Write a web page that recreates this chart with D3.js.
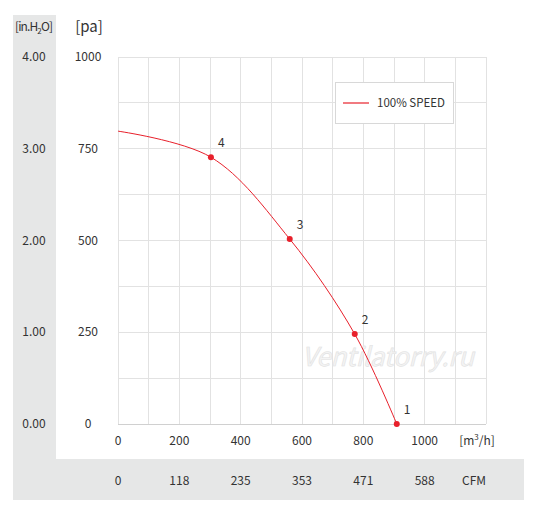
<!DOCTYPE html>
<html><head><meta charset="utf-8">
<script src="https://cdn.jsdelivr.net/npm/d3@7"></script>
<style>body{margin:0;background:#fff}text{font-family:"Noto Sans CJK KR","Noto Sans",sans-serif;fill:#333}</style>
</head><body>
<svg id="c" width="539" height="515"></svg>
<script>
const flowTicks = [0,200,400,600,800,1000];
const cfmLabels = ["0","118","235","353","471","588"];
const paTicks = [0,250,500,750,1000];
const inchLabels = ["0.00","1.00","2.00","3.00","4.00"];
const curveFlow = [0,303,560,772,909];
const curvePa = [798,727,504,245,0];
const pointNames = ["","4","3","2","1"];
const seriesName = "100% SPEED";
const red = "#e8202b";

const svg = d3.select("#c");
const x = d3.scaleLinear().domain([0,1200]).range([118,486]);
const y = d3.scaleLinear().domain([0,1000]).range([424,57]);

svg.append("rect").attr("x",13).attr("y",15).attr("width",43).attr("height",485).attr("fill","#e6e7e7");
svg.append("rect").attr("x",13).attr("y",459).attr("width",511).attr("height",41).attr("fill","#e6e7e7");

const g = svg.append("g");
g.selectAll(".vx").data(d3.range(0,1201,100)).join("line")
  .attr("x1",d=>x(d)).attr("x2",d=>x(d)).attr("y1",y(1000)).attr("y2",y(0))
  .attr("stroke","#e2e2e2").attr("stroke-width",1).attr("shape-rendering","crispEdges");
g.selectAll(".hy").data(d3.range(0,1001,125)).join("line")
  .attr("x1",x(0)).attr("x2",x(1200)).attr("y1",d=>y(d)).attr("y2",d=>y(d))
  .attr("stroke","#e2e2e2").attr("stroke-width",1).attr("shape-rendering","crispEdges");
g.append("line").attr("x1",x(0)).attr("x2",x(1200)).attr("y1",y(0)).attr("y2",y(0))
  .attr("stroke","#d0d0d0").attr("shape-rendering","crispEdges");

const fs = 12;
svg.append("text").attr("x",34).attr("y",31).attr("text-anchor","middle").attr("font-size",12).attr("textLength",38)
  .html('[in.H<tspan font-size="8" dy="3">2</tspan><tspan dy="-3">O]</tspan>');
svg.append("text").attr("x",89).attr("y",32).attr("text-anchor","middle").attr("font-size",15).text("[pa]");
svg.selectAll(".inl").data(paTicks).join("text")
  .attr("x",34).attr("y",d=>y(d)+4).attr("text-anchor","middle").attr("font-size",fs)
  .text((d,i)=>inchLabels[i]);
svg.selectAll(".pal").data(paTicks).join("text")
  .attr("x",88).attr("y",d=>y(d)+4).attr("text-anchor","middle").attr("font-size",fs)
  .text(d=>d);
svg.selectAll(".fl").data(flowTicks).join("text")
  .attr("x",d=>x(d)).attr("y",445).attr("text-anchor","middle").attr("font-size",fs).text(d=>d);
svg.append("text").attr("x",477).attr("y",445).attr("text-anchor","middle").attr("font-size",fs)
  .html('[m<tspan font-size="8" dy="-5">3</tspan><tspan dy="5">/h]</tspan>');
svg.selectAll(".cf").data(flowTicks).join("text")
  .attr("x",d=>x(d)).attr("y",485).attr("text-anchor","middle").attr("font-size",fs).text((d,i)=>cfmLabels[i]);
svg.append("text").attr("x",474).attr("y",485).attr("text-anchor","middle").attr("font-size",fs).text("CFM");

svg.append("text").attr("x",388).attr("y",366).attr("text-anchor","middle")
  .attr("font-size",26).attr("font-style","italic").attr("font-family","DejaVu Sans").attr("textLength",172)
  .style("fill","#f4f4f4").style("stroke","#e2e2e2").style("stroke-width",0.6).text("Ventilatorry.ru");

const pts = curveFlow.map((f,i)=>({f, p:curvePa[i], n:pointNames[i]}));
svg.append("path").datum(pts)
  .attr("d", d3.line().x(d=>x(d.f)).y(d=>y(d.p)).curve(d3.curveCatmullRom))
  .attr("fill","none").attr("stroke",red).attr("stroke-width",1);
const mk = pts.filter(d=>d.n);
svg.selectAll(".pt").data(mk).join("circle")
  .attr("cx",d=>x(d.f)).attr("cy",d=>y(d.p)).attr("r",3).attr("fill",red);
svg.selectAll(".pn").data(mk).join("text")
  .attr("x",d=>x(d.f)+7).attr("y",d=>y(d.p)-10).attr("font-size",fs).text(d=>d.n);

svg.append("rect").attr("x",335.5).attr("y",82.5).attr("width",118).attr("height",41)
  .attr("fill","#fff").attr("stroke","#d8d8d8");
svg.append("line").attr("x1",343).attr("x2",369).attr("y1",103).attr("y2",103).attr("stroke",red).attr("stroke-width",1.2);
svg.append("text").attr("x",377).attr("y",107).attr("font-size",11.5).text(seriesName);
</script>
</body></html>
